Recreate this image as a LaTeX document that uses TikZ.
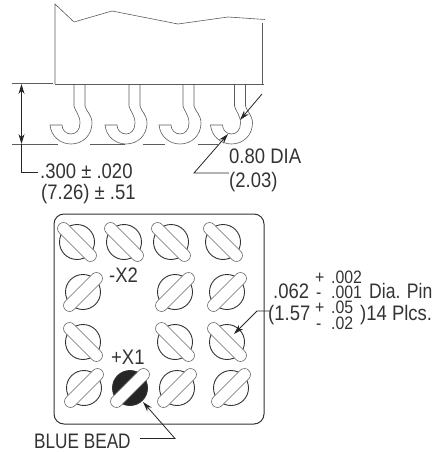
\documentclass[tikz,border=0pt]{standalone}
\usepackage{fontspec}
\setmainfont[FakeStretch=0.88]{Liberation Sans}
\usetikzlibrary{arrows.meta}
\definecolor{ink}{gray}{0.2}
\tikzset{
  x=1pt,y=-1pt,
  lbl/.style={inner sep=0pt,anchor=base west,text=ink,font=\fontsize{21}{21}\selectfont},
  sml/.style={inner sep=0pt,anchor=base west,text=ink,font=\fontsize{18}{18}\selectfont},
  outline/.style={draw=ink,line width=0.7pt},
  thin line/.style={draw=ink!80,line width=0.6pt},
  leader/.style={draw=black!85,line width=0.8pt},
  tip/.style={-{Stealth[length=10pt,width=6pt]}},
  both tip/.style={{Stealth[length=10pt,width=6pt]}-{Stealth[length=10pt,width=6pt]}},
}
\newcommand{\hookpin}[1]{%
  \begin{scope}[xshift=#1pt]
    \draw[thin line] (74,84) -- (74,106) .. controls (75,111) and (80,115) .. (80,123)
      .. controls (80,130) and (76,134) .. (71,134)
      .. controls (66,134) and (62,130) .. (62,125) -- (50,125)
      .. controls (51,136) and (60,144) .. (71,144)
      .. controls (83,144) and (92,135) .. (92,123)
      .. controls (92,115) and (86,111) .. (85,106) -- (85,84);
  \end{scope}}
\newcommand{\bead}[4]{% x, y, angle, fill
  \begin{scope}[shift={(#1,#2)}]
    \draw[draw=ink,line width=0.9pt,fill=#4] (0,0) circle[radius=17.5pt];
    \draw[draw=ink!75,line width=0.6pt,fill=white,rotate=#3,rounded corners=5.9pt]
      (-25,-6) rectangle (25,6);
  \end{scope}}
\begin{document}
\begin{tikzpicture}
\useasboundingbox (0,0) rectangle (436,452);
% body
\draw[thin line] (55,84) -- (55,4) -- (74,22) -- (112,11) -- (178,24) -- (228,17) -- (265,19.5);
\draw[thin line] (262,23) -- (262,84);
\draw[thin line] (55,84) -- (264,84);
% pins
\hookpin{0}\hookpin{55}\hookpin{109}\hookpin{160.5}
% extension lines
\draw[thin line] (12,83) -- (53,83);
\draw[thin line] (12,144.5) -- (58,144.5);
\draw[thin line] (90,144.5) -- (125,144.5);
\draw[thin line] (143,144.5) -- (165,144.5);
\draw[thin line] (198,144.5) -- (218,144.5);
% .300 dimension
\coordinate (dimtop) at (21.5,84);
\coordinate (dimbot) at (21.5,144);
\coordinate (dimend) at (38,172);
\draw[leader,both tip] (dimtop) -- (dimbot);
\draw[leader] (dimbot) -- (21.5,172) -- (dimend);
\node[lbl] (t300) at (40,178) {.300 ± .020};
\node[lbl] (t726) at (41,199) {(7.26) ± .51};
% DIA leaders
\coordinate (diaA) at (262,94);
\coordinate (diaB) at (240,120);
\draw[leader,tip] (diaA) -- (diaB);
\coordinate (diaC) at (229,173);
\coordinate (diaD) at (194,173);
\coordinate (diaE) at (228,134);
\draw[leader,tip] (diaC) -- (diaD) -- (diaE);
\node[lbl] (t080) at (229,163) {0.80 DIA};
\node[lbl] (t203) at (229,187) {(2.03)};
% base
\draw[outline,line width=1pt,rounded corners=10pt] (54,214) rectangle (264,424);
% beads
\bead{77}{242}{-45}{white}\bead{124}{242}{-45}{white}\bead{171}{242}{-45}{white}\bead{223}{242}{-45}{white}
\bead{83}{292}{45}{white}\bead{175}{292}{45}{white}\bead{227}{292}{45}{white}
\bead{83}{342}{-45}{white}\bead{175}{342}{-45}{white}\bead{227}{342}{-45}{white}
\bead{84}{388}{45}{white}\bead{130}{388}{45}{black!85}\bead{177}{388}{45}{white}\bead{231}{388}{45}{white}
\node[lbl] (x2) at (109,282) {-X2};
\node[lbl] (x1) at (111,364) {+X1};
% blue bead
\node[lbl] (bb) at (34,448) {\scalebox{0.93}[1]{BLUE BEAD}};
\coordinate (bbA) at (140,438.5);
\coordinate (bbB) at (175,438.5);
\coordinate (bbC) at (143,402);
\draw[leader,tip] (bbA) -- (bbB) -- (bbC);
% pin leader
\coordinate (pA) at (270,311);
\coordinate (pB) at (257,311);
\coordinate (pC) at (234,334);
\draw[leader,tip] (pA) -- (pB) -- (pC);
\node[lbl] (t062) at (273,298) {.062};
\node[sml] (tp1a) at (315,283) {+};
\node[sml] (tp1b) at (331,283) {.002};
\node[sml] (tm1a) at (316,298) {-};
\node[sml] (tm1b) at (331,298) {.001};
\node[lbl] (tdia) at (369,298) {\scalebox{0.95}[1]{Dia. Pin}};
\node[lbl] (t157) at (268,320) {(1.57};
\node[sml] (tp2a) at (315,313) {+};
\node[sml] (tp2b) at (331,313) {.05};
\node[sml] (tm2a) at (316,329) {-};
\node[sml] (tm2b) at (331,329) {.02};
\node[lbl] (t14) at (360,320) {)14 Plcs.};
\end{tikzpicture}
\end{document}
